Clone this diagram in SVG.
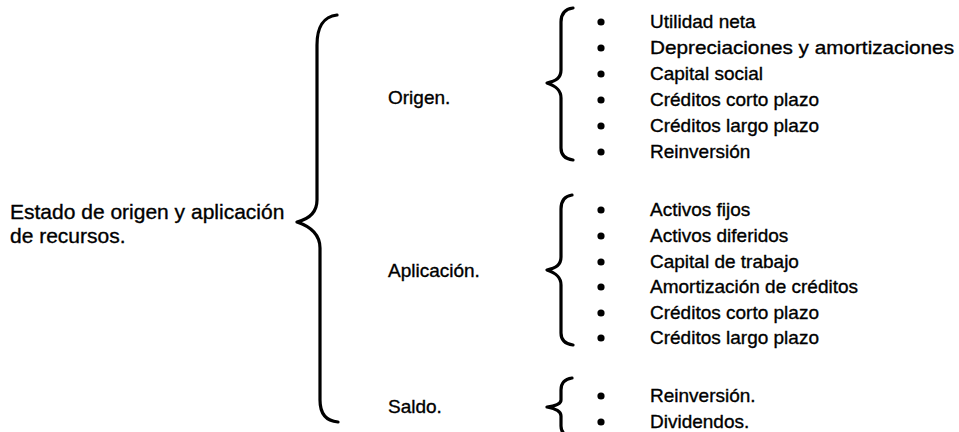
<svg xmlns="http://www.w3.org/2000/svg" width="959" height="432" viewBox="0 0 959 432">
  <style>
    text { font-family: "Liberation Sans", Arial, sans-serif; font-size: 19px; fill: #000; stroke: #000; stroke-width: 0.35; }
    .big { font-size: 21px; }
    .brace { fill: none; stroke: #000; stroke-width: 3.2; stroke-linecap: round; stroke-linejoin: round; }
    .dot { fill: #000; }
  </style>
  <defs>
    <circle id="bullet" r="3.6" class="dot"/>
  </defs>
  <rect width="959" height="432" fill="#fff"/>

  <!-- root -->
  <g id="root">
    <text class="big" x="10" y="219">Estado de origen y aplicación</text>
    <text class="big" x="10" y="243">de recursos.</text>
  </g>

  <!-- braces -->
  <g id="connectors">
    <path class="brace" d="M337,15 C322,17 317,28 317,45 L317,200 C317,213 309,219 297,222 C309,226 320,233 320,248 L320,400 C320,414 326,421 338,422"/>
    <path class="brace" d="M573,8 C565,9 561,14 561,22 L561,70 C561,78 556,81 547,83 C556,86 561,90 561,98 L561,148 C561,155 565,159 573,160"/>
    <path class="brace" d="M572,195 C565,196 561,201 561,209 L561,257 C561,265 556,268 547,270 C556,273 561,277 561,285 L561,333 C561,340 565,344 573,345"/>
    <path class="brace" d="M572,378 C565,379 561,383 561,390 L561,400 C561,404 556,406 547,407 C556,409 561,411 561,416 L561,426 C561,432 565,436 572,437"/>
  </g>

  <g id="origen">
    <text x="388" y="104">Origen.</text>
    <use href="#bullet" x="601" y="22"/>
    <use href="#bullet" x="601" y="48"/>
    <use href="#bullet" x="601" y="74"/>
    <use href="#bullet" x="601" y="100"/>
    <use href="#bullet" x="601" y="126"/>
    <use href="#bullet" x="601" y="152"/>
    <text x="650" y="28">Utilidad neta</text>
    <text x="650" y="54" textLength="304" lengthAdjust="spacingAndGlyphs">Depreciaciones y amortizaciones</text>
    <text x="650" y="80">Capital social</text>
    <text x="650" y="106">Créditos corto plazo</text>
    <text x="650" y="132">Créditos largo plazo</text>
    <text x="650" y="158">Reinversión</text>
  </g>

  <g id="aplicacion">
    <text x="388" y="277">Aplicación.</text>
    <use href="#bullet" x="601" y="210"/>
    <use href="#bullet" x="601" y="236"/>
    <use href="#bullet" x="601" y="262"/>
    <use href="#bullet" x="601" y="287"/>
    <use href="#bullet" x="601" y="313"/>
    <use href="#bullet" x="601" y="338"/>
    <text x="650" y="216">Activos fijos</text>
    <text x="650" y="242">Activos diferidos</text>
    <text x="650" y="268">Capital de trabajo</text>
    <text x="650" y="293">Amortización de créditos</text>
    <text x="650" y="319">Créditos corto plazo</text>
    <text x="650" y="344">Créditos largo plazo</text>
  </g>

  <g id="saldo">
    <text x="388" y="413">Saldo.</text>
    <use href="#bullet" x="601" y="396"/>
    <use href="#bullet" x="601" y="422"/>
    <text x="650" y="402">Reinversión.</text>
    <text x="650" y="428">Dividendos.</text>
  </g>
</svg>
